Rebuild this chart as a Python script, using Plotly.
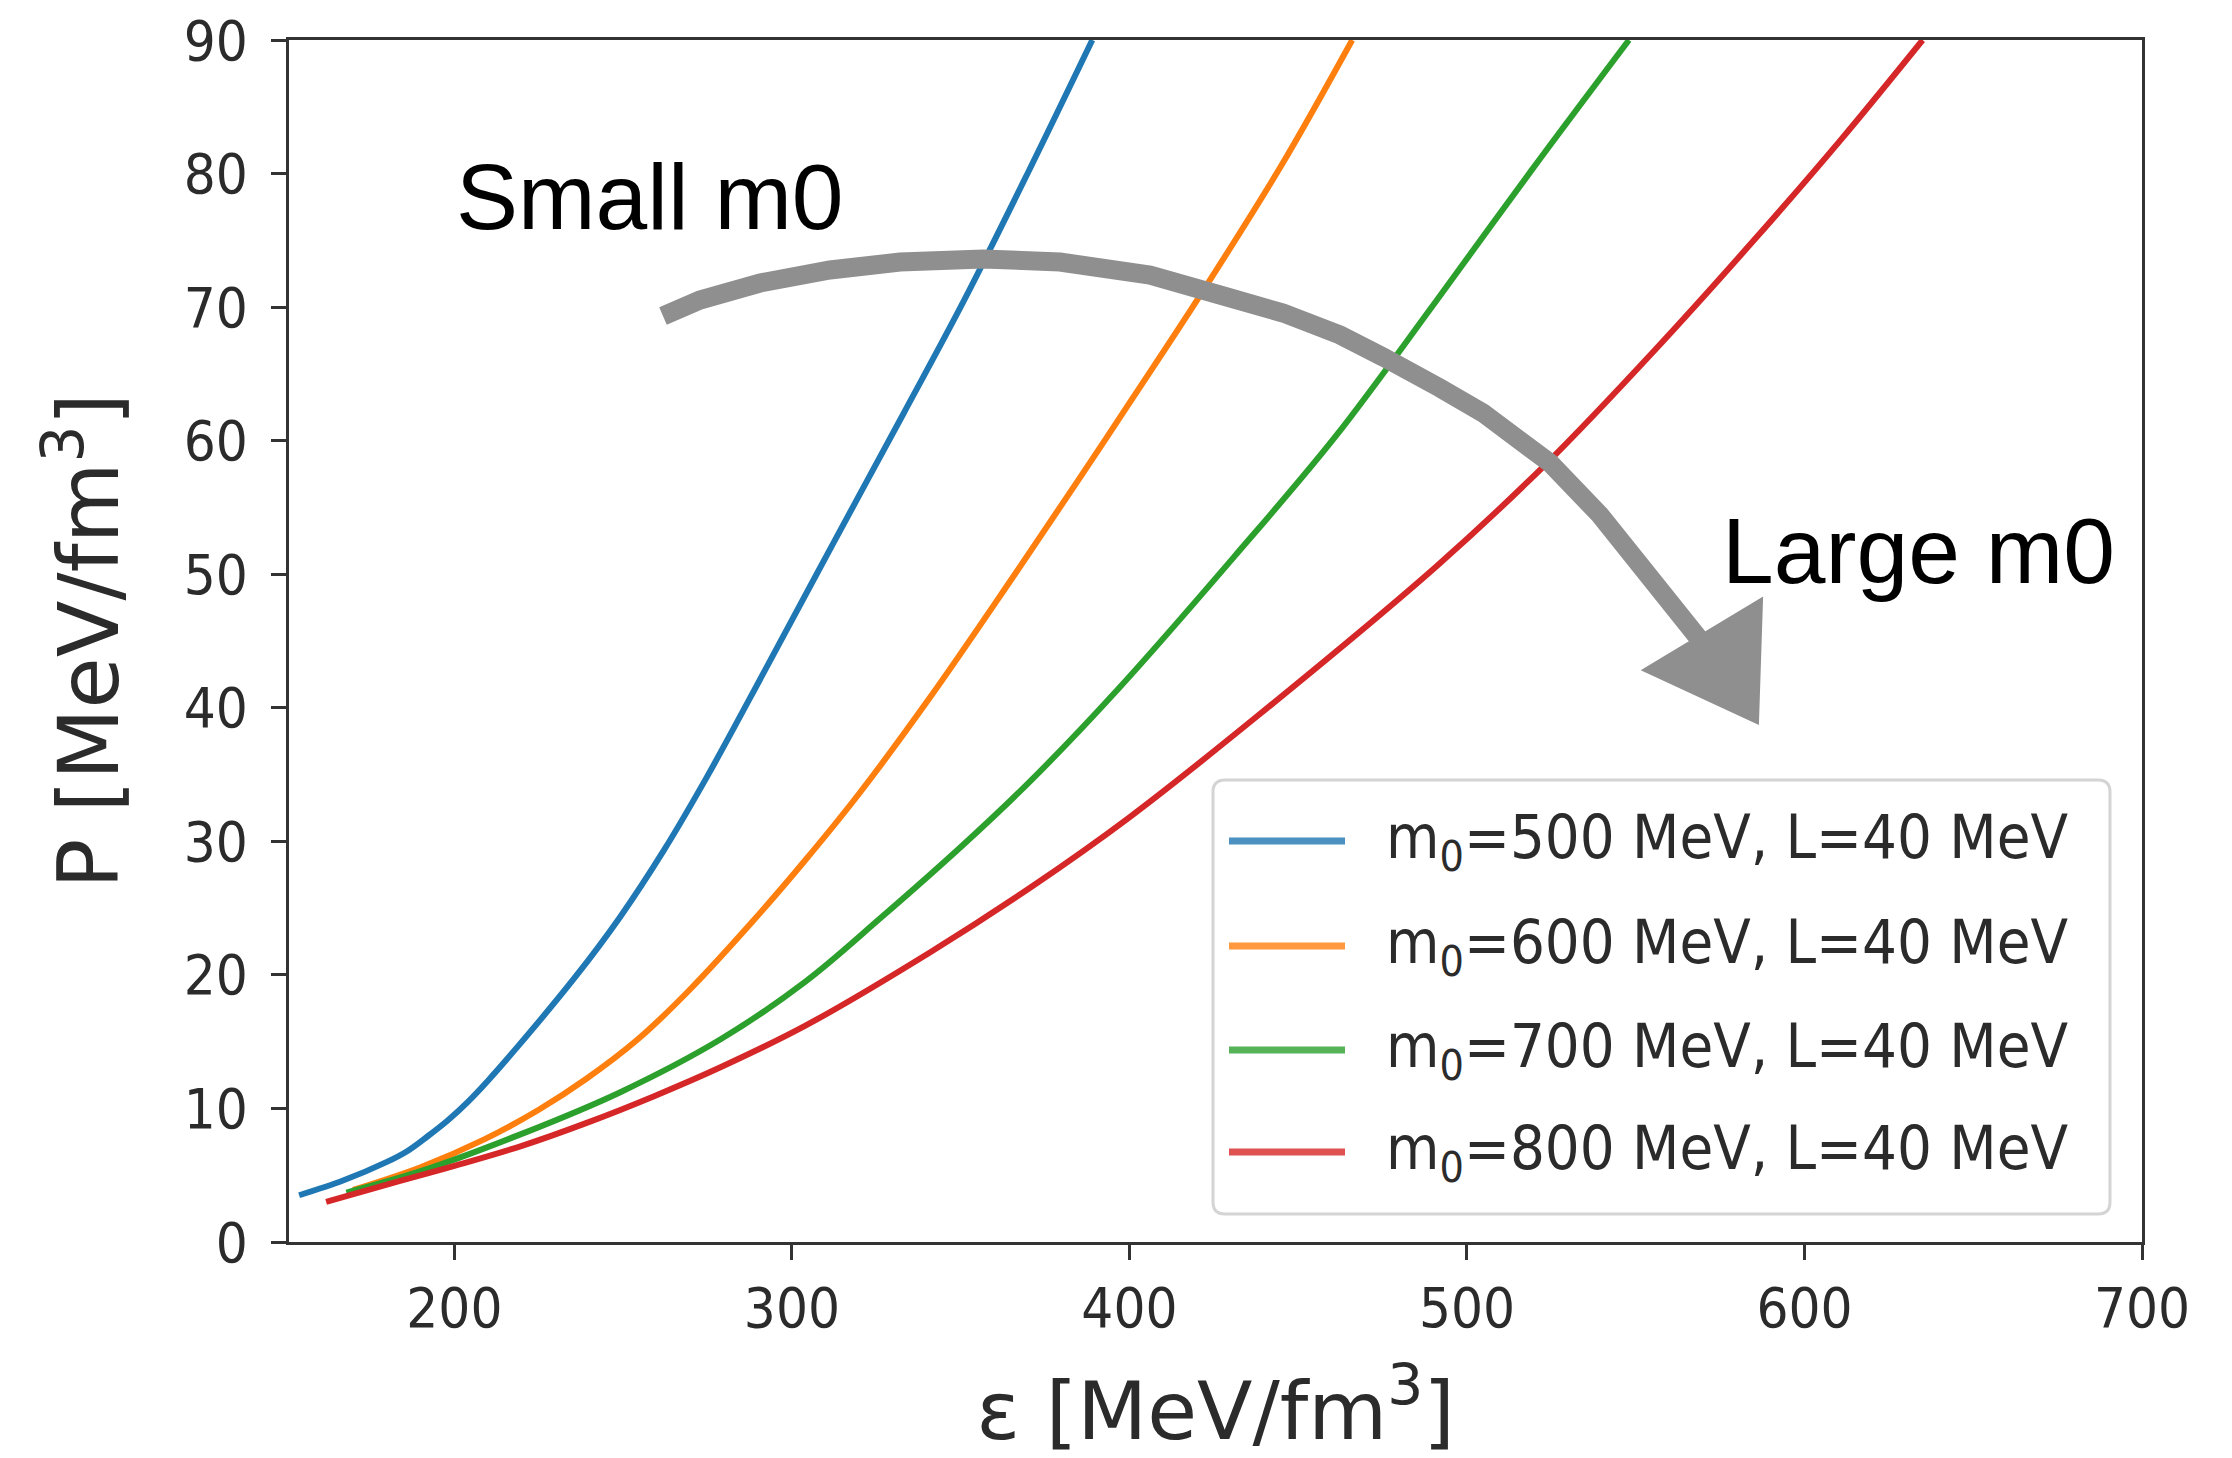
import plotly.graph_objects as go

# ---------------- data ----------------
labels = ["m<sub>0</sub>=500 MeV, L=40 MeV",
          "m<sub>0</sub>=600 MeV, L=40 MeV",
          "m<sub>0</sub>=700 MeV, L=40 MeV",
          "m<sub>0</sub>=800 MeV, L=40 MeV"]
colors = ["#1f77b4", "#ff7f0e", "#2ca02c", "#d62728"]

eps_500 = [154, 167, 180, 186, 192, 198, 204, 210, 219, 236, 249, 262, 275, 292, 312, 333, 351, 370, 389]
P_500 = [3.5, 4.6, 6.0, 6.8, 7.9, 9.1, 10.5, 12.1, 14.7, 19.9, 24.3, 29.3, 34.9, 42.8, 52.2, 62.0, 70.5, 80.1, 90.0]

eps_600 = [170, 190, 209, 225, 239, 254, 269, 288, 304, 320, 341, 365, 385, 401, 421, 445, 466]
P_600 = [3.9, 5.6, 7.7, 9.9, 12.2, 15.1, 18.7, 23.9, 28.6, 33.6, 40.8, 49.6, 57.1, 63.2, 70.9, 80.6, 90.0]

eps_700 = [168, 190, 219, 249, 279, 304, 326, 351, 371, 397, 431, 461, 491, 519, 548]
P_700 = [3.7, 5.3, 8.0, 11.2, 15.2, 19.5, 24.2, 29.8, 34.6, 41.5, 51.3, 60.3, 70.5, 80.2, 90.0]

eps_800 = [162, 180, 200, 220, 239, 259, 279, 304, 341, 371, 400, 438, 491, 524, 555, 585, 611, 635]
P_800 = [3.0, 4.3, 5.7, 7.2, 8.9, 10.9, 13.1, 16.2, 21.7, 26.6, 31.8, 39.4, 50.6, 58.4, 66.6, 75.0, 82.6, 90.0]

series = [(eps_500, P_500), (eps_600, P_600), (eps_700, P_700), (eps_800, P_800)]

x_ticks = [200, 300, 400, 500, 600, 700]
y_ticks = [0, 10, 20, 30, 40, 50, 60, 70, 80, 90]
x_range = [151, 700]
y_range = [0, 90]

# ---------------- layout geometry (pixels) ----------------
W, H = 2232, 1458
L, R, T, B = 289, 2142, 40, 1242   # plot area


def px(X):
    return (X - L) / (R - L)


def py(Y):
    return (B - Y) / (B - T)


TICK_FONT = "DejaVu Sans Condensed, DejaVu Sans, sans-serif"
INK = "#2b2b2b"

fig = go.Figure()
for (xs, ys), name, c in zip(series, labels, colors):
    fig.add_trace(go.Scatter(x=xs, y=ys, mode="lines", name=name,
                             line=dict(color=c, width=6, shape="spline", smoothing=1.0),
                             showlegend=False, cliponaxis=True))

shapes = []
annotations = []

# ---- legend drawn matplotlib-style (long line samples) ----
lx0, lx1, ly0, ly1, r = 1213, 2110, 780, 1214, 12
rect = (f"M {px(lx0 + r)},{py(ly0)} L {px(lx1 - r)},{py(ly0)} "
        f"Q {px(lx1)},{py(ly0)} {px(lx1)},{py(ly0 + r)} "
        f"L {px(lx1)},{py(ly1 - r)} Q {px(lx1)},{py(ly1)} {px(lx1 - r)},{py(ly1)} "
        f"L {px(lx0 + r)},{py(ly1)} Q {px(lx0)},{py(ly1)} {px(lx0)},{py(ly1 - r)} "
        f"L {px(lx0)},{py(ly0 + r)} Q {px(lx0)},{py(ly0)} {px(lx0 + r)},{py(ly0)} Z")
shapes.append(dict(type="path", xref="paper", yref="paper", path=rect,
                   fillcolor="rgba(255,255,255,0.85)", line=dict(color="#d4d4d4", width=3),
                   layer="above"))
row_y = [841, 946, 1050, 1152]
for yy, name, c in zip(row_y, labels, colors):
    shapes.append(dict(type="line", xref="paper", yref="paper",
                       x0=px(1229), x1=px(1345), y0=py(yy), y1=py(yy),
                       line=dict(color=c, width=7), layer="above", opacity=0.8))
    annotations.append(dict(xref="paper", yref="paper", x=px(1384), y=py(yy),
                            xanchor="left", yanchor="middle", showarrow=False,
                            text=name, font=dict(family=TICK_FONT, size=61, color=INK)))

# ---- hand-drawn style arrow ----
arc = [(663, 316), (700, 300), (760, 283), (830, 270), (900, 262), (983, 259),
       (1060, 262), (1150, 275), (1220, 295), (1283, 313), (1340, 335), (1383, 357),
       (1440, 388), (1483, 413), (1550, 463), (1600, 515), (1640, 565), (1668, 600),
       (1700, 640)]
p = "M " + " L ".join(f"{px(a)},{py(b)}" for a, b in arc)
shapes.append(dict(type="path", xref="paper", yref="paper", path=p,
                   line=dict(color="#8f8f8f", width=19), layer="above"))
head = [(1645, 670), (1761, 600), (1757, 722)]
hp = "M " + " L ".join(f"{px(a)},{py(b)}" for a, b in head) + " Z"
shapes.append(dict(type="path", xref="paper", yref="paper", path=hp,
                   fillcolor="#8f8f8f", line=dict(color="#8f8f8f", width=4), layer="above"))

annotations.append(dict(xref="paper", yref="paper", x=px(650), y=py(197),
                        xanchor="center", yanchor="middle", showarrow=False,
                        text="Small m0",
                        font=dict(family="Liberation Sans, Arial, Helvetica, sans-serif",
                                  size=93, color="black")))
annotations.append(dict(xref="paper", yref="paper", x=px(1918), y=py(551),
                        xanchor="center", yanchor="middle", showarrow=False,
                        text="Large m0",
                        font=dict(family="Liberation Sans, Arial, Helvetica, sans-serif",
                                  size=93, color="black")))

axis_common = dict(showgrid=False, zeroline=False, showline=True, linecolor="#333333",
                   linewidth=3, mirror=True, ticks="outside", ticklen=15, tickwidth=3,
                   tickcolor="#333333", automargin=False, ticklabeloverflow="allow",
                   tickfont=dict(family=TICK_FONT, size=56, color=INK))

fig.update_layout(
    width=W, height=H,
    margin=dict(l=L, r=W - R, t=T, b=H - B),
    paper_bgcolor="white", plot_bgcolor="white",
    xaxis=dict(range=x_range, tickvals=x_ticks, ticklabelstandoff=0,
               title=dict(text="ε [MeV/fm<sup>3</sup>]", standoff=60,
                          font=dict(family="DejaVu Sans, sans-serif", size=81, color=INK)),
               **axis_common),
    yaxis=dict(range=y_range, tickvals=y_ticks, ticklabelstandoff=12,
               title=dict(text="P [MeV/fm<sup>3</sup>]", standoff=38,
                          font=dict(family="DejaVu Sans, sans-serif", size=83, color=INK)),
               **axis_common),
    shapes=shapes, annotations=annotations, showlegend=False,
)

fig.write_html("out.html",
               config=dict(displayModeBar=False),
               post_script="document.body.style.margin='0';"
                           "document.body.style.overflow='hidden';")
